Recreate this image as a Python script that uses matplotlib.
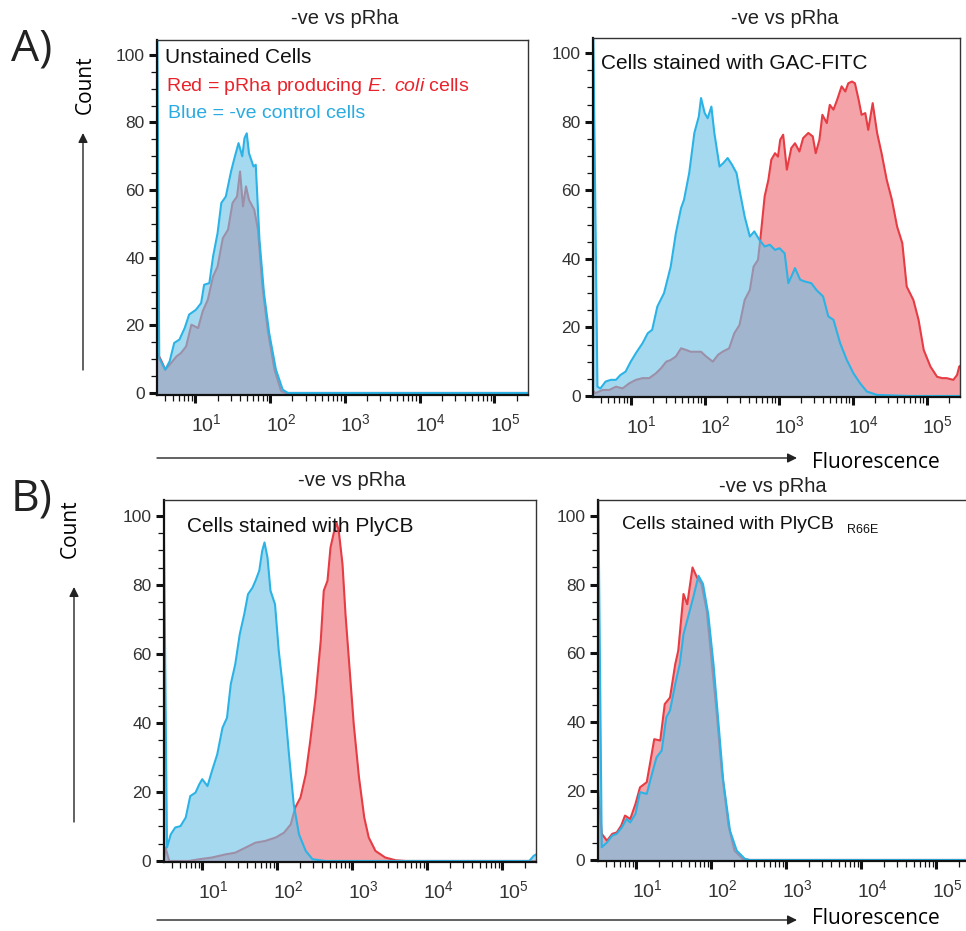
import numpy as np
import matplotlib.pyplot as plt
from matplotlib.patches import FancyArrowPatch
from matplotlib.ticker import LogLocator, MultipleLocator, NullFormatter
from matplotlib.transforms import ScaledTranslation

plt.rcParams['font.family'] = ['Liberation Sans', 'DejaVu Sans']
plt.rcParams['mathtext.fontset'] = 'custom'
plt.rcParams['mathtext.rm'] = 'Liberation Sans'
plt.rcParams['mathtext.it'] = 'Liberation Sans:italic'

# ---- data: x in log10(fluorescence), y = count ----
# A, unstained
unst_neg_x = [0.495, 0.52, 0.60, 0.66, 0.72, 0.79, 0.86, 0.92, 1.01, 1.08, 1.12, 1.19, 1.24, 1.30, 1.35,
              1.41, 1.48, 1.52, 1.58, 1.63, 1.66, 1.69, 1.72, 1.78, 1.81, 1.86, 1.92, 1.99, 2.08, 2.17,
              2.24, 5.50]
unst_neg_y = [104, 10.3, 6.9, 9.4, 14.8, 15.8, 19.2, 23.2, 24.6, 26.6, 32.0, 32.5, 40.4, 47.3, 56.2,
              58.1, 65.5, 69.0, 73.9, 70.0, 75.4, 76.8, 70.9, 67.0, 67.5, 45.3, 29.6, 17.7, 6.9, 1.0,
              0, 0]
unst_prha_x = [0.495, 0.55, 0.60, 0.68, 0.75, 0.81, 0.88, 0.95, 1.04, 1.10, 1.17, 1.24, 1.30, 1.37, 1.44,
               1.50, 1.56, 1.60, 1.64, 1.68, 1.72, 1.79, 1.84, 1.90, 1.97, 2.06, 2.15, 2.21, 5.50]
unst_prha_y = [11.8, 9.4, 6.9, 8.9, 10.8, 11.8, 13.8, 20.2, 19.2, 24.1, 27.6, 34.5, 37.4, 45.8, 48.3,
               56.2, 58.1, 65.5, 55.2, 61.1, 57.1, 54.2, 48.3, 31.5, 18.7, 6.9, 0.5, 0, 0]

# A, GAC-FITC
gac_neg_x = [0.495, 0.55, 0.59, 0.66, 0.73, 0.80, 0.86, 0.93, 1.00, 1.07, 1.16, 1.23, 1.29, 1.36, 1.45,
             1.54, 1.61, 1.68, 1.72, 1.79, 1.86, 1.92, 1.95, 2.00, 2.04, 2.09, 2.13, 2.20, 2.25, 2.31,
             2.37, 2.43, 2.47, 2.54, 2.61, 2.67, 2.74, 2.81, 2.88, 2.95, 3.01, 3.08, 3.13, 3.17, 3.22,
             3.29, 3.35, 3.44, 3.51, 3.60, 3.67, 3.74, 3.83, 3.92, 4.01, 4.10, 4.19, 4.33, 4.78, 5.50]
gac_neg_y = [104, 2.7, 2.2, 4.2, 4.7, 4.7, 6.1, 7.1, 10.0, 12.5, 15.4, 18.3, 19.3, 26.1, 30.0,
             37.7, 47.5, 54.8, 57.2, 65.0, 76.7, 81.5, 86.9, 82.5, 81.0, 84.4, 76.7, 66.9, 67.9, 69.4,
             67.4, 65.0, 60.1, 52.3, 46.5, 48.0, 45.5, 43.6, 44.1, 42.6, 43.1, 41.6, 32.9, 34.8, 37.3,
             33.9, 33.4, 32.9, 30.9, 29.0, 23.2, 22.2, 15.4, 10.5, 6.6, 3.7, 1.3, 0.3, 0, 0]
gac_prha_x = [0.495, 0.52, 0.62, 0.71, 0.80, 0.89, 0.98, 1.07, 1.16, 1.25, 1.34, 1.41, 1.48, 1.54, 1.61,
              1.68, 1.75, 1.81, 1.88, 1.95, 2.02, 2.11, 2.18, 2.24, 2.33, 2.40, 2.47, 2.54, 2.61, 2.66,
              2.72, 2.76, 2.81, 2.86, 2.90, 2.95, 2.99, 3.02, 3.06, 3.11, 3.17, 3.22, 3.28, 3.33, 3.40,
              3.46, 3.50, 3.55, 3.59, 3.65, 3.69, 3.74, 3.79, 3.85, 3.90, 3.94, 3.99, 4.03, 4.08, 4.12,
              4.17, 4.21, 4.27, 4.33, 4.39, 4.46, 4.53, 4.60, 4.67, 4.73, 4.82, 4.89, 4.96, 5.05, 5.14,
              5.21, 5.27, 5.36, 5.41, 5.44, 5.50]
gac_prha_y = [1.5, 0.8, 1.75, 1.75, 2.7, 2.2, 3.7, 4.7, 5.2, 5.2, 6.6, 8.1, 10.0, 10.5, 11.5,
              13.9, 13.4, 12.9, 12.9, 12.9, 11.5, 10.0, 12.0, 12.9, 13.9, 18.3, 20.7, 28.0, 30.9, 37.7,
              39.7, 47.5, 58.2, 63.0, 68.9, 70.8, 69.8, 74.7, 76.2, 66.0, 72.3, 73.7, 71.3, 75.2, 76.7,
              75.7, 70.8, 74.7, 82.0, 79.6, 84.9, 83.5, 86.4, 90.3, 88.8, 91.2, 91.7, 91.2, 86.4, 82.0,
              82.5, 77.6, 85.4, 76.7, 70.8, 63.0, 57.2, 49.4, 44.6, 31.9, 28.0, 22.2, 13.4, 8.6, 5.6,
              5.2, 5.2, 4.7, 6.1, 8.6, 9.5]

# B, PlyCB
ply_neg_x = [0.485, 0.53, 0.58, 0.64, 0.71, 0.78, 0.84, 0.91, 0.96, 1.00, 1.07, 1.13, 1.20, 1.27, 1.33,
             1.38, 1.44, 1.50, 1.56, 1.61, 1.67, 1.71, 1.76, 1.80, 1.83, 1.87, 1.91, 1.97, 2.02, 2.09,
             2.16, 2.22, 2.29, 2.38, 2.47, 2.64, 5.36, 5.42, 5.50]
ply_neg_y = [104, 3.9, 7.7, 9.7, 10.1, 12.6, 18.8, 19.8, 22.2, 23.7, 21.7, 26.1, 30.9, 38.6, 41.5,
             51.2, 57.0, 65.7, 71.5, 77.3, 79.2, 81.2, 84.1, 89.9, 92.3, 87.9, 78.3, 74.4, 60.9, 47.3,
             30.0, 16.4, 7.7, 2.9, 0.5, 0, 0, 1.5, 2.5]
ply_prha_x = [0.485, 0.51, 0.56, 0.69, 0.82, 0.96, 1.13, 1.31, 1.44, 1.58, 1.71, 1.84, 1.98, 2.09, 2.18,
              2.24, 2.31, 2.38, 2.44, 2.51, 2.58, 2.62, 2.67, 2.71, 2.76, 2.79, 2.82, 2.87, 2.91, 2.96,
              3.02, 3.09, 3.16, 3.22, 3.31, 3.44, 3.58, 3.71, 5.50]
ply_prha_y = [0, 3.9, 0, 0, 0, 0.5, 1.0, 1.9, 2.4, 3.9, 5.3, 5.8, 6.8, 8.2, 10.6,
              15.5, 18.4, 25.1, 34.8, 47.3, 63.8, 78.3, 81.2, 90.8, 95.7, 98.1, 95.7, 86.0, 71.5, 57.0,
              39.6, 24.2, 12.6, 6.8, 2.9, 1.0, 0.2, 0, 0]

# B, PlyCB R66E
r66_neg_x = [0.495, 0.54, 0.61, 0.68, 0.74, 0.81, 0.87, 0.92, 0.99, 1.05, 1.14, 1.21, 1.27, 1.34, 1.40,
             1.45, 1.52, 1.58, 1.63, 1.69, 1.76, 1.83, 1.89, 1.96, 2.03, 2.09, 2.16, 2.25, 2.34, 2.45,
             2.51, 5.50]
r66_neg_y = [104, 3.7, 5.1, 7.1, 7.6, 9.5, 11.9, 10.9, 13.4, 19.7, 19.2, 25.0, 29.8, 31.8, 41.4,
             43.4, 51.1, 56.9, 65.6, 70.5, 76.3, 82.6, 80.2, 71.4, 56.9, 41.4, 23.0, 8.5, 2.7, 0.3,
             0, 0]
r66_prha_x = [0.495, 0.54, 0.61, 0.68, 0.74, 0.80, 0.85, 0.92, 0.99, 1.05, 1.14, 1.19, 1.24, 1.32, 1.38,
              1.45, 1.52, 1.56, 1.63, 1.68, 1.75, 1.81, 1.87, 1.94, 2.00, 2.07, 2.14, 2.23, 2.31, 2.42,
              2.51, 5.50]
r66_prha_y = [20, 7.6, 5.6, 7.6, 8.0, 10.0, 12.9, 11.9, 16.3, 21.1, 22.6, 28.8, 35.1, 34.7, 45.3,
              47.2, 56.9, 60.8, 77.3, 74.3, 85.0, 82.1, 80.2, 72.4, 58.9, 43.4, 25.9, 10.0, 2.7, 0.3,
              0, 0]

decades = [1, 2, 3, 4, 5]
title = '-ve vs pRha'

BLUE = '#2bb3e6'
BLUE_FILL = '#6fc3e6'
RED = '#e63c44'
RED_FILL = '#f4a3a8'

W, H = 966, 931
fig = plt.figure(figsize=(W / 100, H / 100), dpi=100)


def add_ax(l, t, r, b):
    return fig.add_axes([l / W, 1 - b / H, (r - l) / W, (b - t) / H])


def draw(ax, bx, by, rx, ry, ylo, yhi):
    rx = 10 ** np.array(rx)
    bx = 10 ** np.array(bx)
    # red under blue, blue fill semi-transparent so the red line shows through as mauve
    ax.fill_between(rx, ry, -5, color=RED_FILL, lw=0, zorder=1)
    ax.plot(rx, ry, color=RED, lw=1.5, zorder=1.1)
    ax.fill_between(bx, by, -5, color=BLUE_FILL, alpha=0.62, lw=0, zorder=1.2)
    ax.plot(bx, by, color=BLUE, lw=1.5, zorder=1.3)
    ax.set_xscale('log')
    ax.set_xlim(10 ** 0.49, 10 ** 5.45)
    ax.set_ylim(ylo, yhi)
    ax.set_xticks([10 ** k for k in decades])
    ax.set_xticklabels([r'$\mathregular{10^{%d}}$' % k for k in decades])
    ax.xaxis.set_minor_locator(LogLocator(10, subs=np.arange(2, 10), numticks=100))
    ax.xaxis.set_minor_formatter(NullFormatter())
    ax.set_yticks(range(0, 101, 20))
    ax.yaxis.set_minor_locator(MultipleLocator(5))
    ax.tick_params(which='major', direction='out', length=6, width=2.2, color='#111',
                   labelcolor='#333', labelsize=12.5, pad=3)
    ax.tick_params(axis='x', which='major', labelsize=14, pad=7)
    ax.tick_params(which='minor', direction='out', length=4, width=0.9, color='#111')
    for s in ['left', 'bottom']:
        ax.spines[s].set_linewidth(1.6)
        ax.spines[s].set_color('#111')
    for s in ['top', 'right']:
        ax.spines[s].set_linewidth(1.0)
        ax.spines[s].set_color('#333')
    for lab in ax.get_xticklabels():
        lab.set_transform(lab.get_transform() + ScaledTranslation(0.11, 0, fig.dpi_scale_trans))


ax1 = add_ax(157, 40, 528, 395)
draw(ax1, unst_neg_x, unst_neg_y, unst_prha_x, unst_prha_y, -0.6, 104.4)
ax2 = add_ax(593, 38, 960, 397)
draw(ax2, gac_neg_x, gac_neg_y, gac_prha_x, gac_prha_y, -0.3, 104.4)
ax3 = add_ax(164, 500, 536, 862)
draw(ax3, ply_neg_x, ply_neg_y, ply_prha_x, ply_prha_y, -0.3, 104.6)
ax4 = add_ax(598, 500, 970, 861)
draw(ax4, r66_neg_x, r66_neg_y, r66_prha_x, r66_prha_y, -0.3, 104.6)


def ftext(x, y, s, **kw):
    return fig.text(x / W, 1 - y / H, s, **kw)


# titles
for x, y in [(345, 19), (785, 19), (352, 480), (773, 486)]:
    ftext(x, y, title, ha='center', va='center', fontsize=14.5, color='#222')

# in-panel labels
ftext(165, 63, 'Unstained Cells', fontsize=15, color='#111')
ftext(166, 91, r'Red = pRha producing $\mathit{E.\ coli}$ cells', fontsize=14, color='#e8232b')
ftext(168, 118, 'Blue = -ve control cells', fontsize=14, color='#29abe2')
ftext(601, 69, 'Cells stained with GAC-FITC', fontsize=15, color='#111')
ftext(187, 532, 'Cells stained with PlyCB', fontsize=15, color='#111')
ftext(622, 529, 'Cells stained with PlyCB', fontsize=14, color='#111')
ftext(847, 533, 'R66E', fontsize=9, color='#111')

# panel letters, axis names and arrows
side = ['Open Sans', 'DejaVu Sans']
ftext(11, 60, 'A)', fontsize=32, family=side, color='#222')
ftext(11, 511, 'B)', fontsize=32, family=side, color='#222')
ftext(85, 85, 'Count', rotation=90, ha='center', va='center', fontsize=15, family=side)
ftext(70, 529, 'Count', rotation=90, ha='center', va='center', fontsize=15, family=side)
ftext(812, 462, 'Fluorescence', va='center', fontsize=15, family=side)
ftext(812, 919, 'Fluorescence', va='center', fontsize=15, family=side)

arrow = dict(arrowstyle='-|>', color='#222', lw=1.0, mutation_scale=14, shrinkA=0, shrinkB=0)
for (x0, y0, x1, y1) in [(83, 370, 83, 133), (74, 822, 74, 587),
                         (157, 458, 797, 458), (157, 920, 797, 920)]:
    fig.add_artist(FancyArrowPatch((x0 / W, 1 - y0 / H), (x1 / W, 1 - y1 / H),
                                   transform=fig.transFigure, **arrow))

fig.savefig('out.png', dpi=100)
